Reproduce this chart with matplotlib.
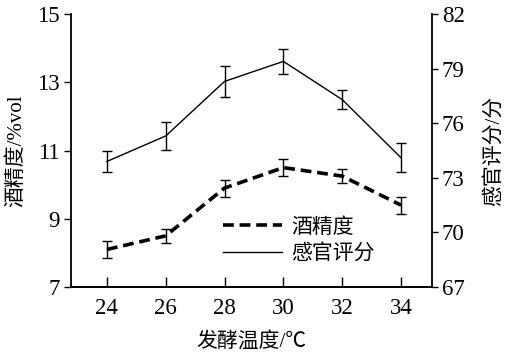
import matplotlib
matplotlib.use("Agg")
import matplotlib.pyplot as plt

plt.rcParams['font.family'] = ['Liberation Serif', 'Noto Sans CJK SC']

# data
temps = [24, 26, 28, 30, 32, 34]
alcohol = [8.1, 8.5, 9.9, 10.5, 10.25, 9.4]
alcohol_err = [0.25, 0.2, 0.25, 0.25, 0.2, 0.25]
sensory = [73.9, 75.3, 78.3, 79.4, 77.3, 74.1]
sensory_err = [0.6, 0.75, 0.85, 0.7, 0.5, 0.8]
left_ticks = [7, 9, 11, 13, 15]
right_ticks = [67, 70, 73, 76, 79, 82]

fig = plt.figure(figsize=(5.07, 3.61), dpi=100)
ax = fig.add_axes([0.140, 0.205, 0.712, 0.756])
ax2 = ax.twinx()

l1 = ax.errorbar(temps, alcohol, yerr=alcohol_err, color='black', lw=2.6,
                 linestyle=(0, (3, 1.6)), capsize=3.6, elinewidth=1, capthick=1,
                 label='酒精度')
l2 = ax2.errorbar(temps, sensory, yerr=sensory_err, color='black', lw=1,
                  capsize=3.6, elinewidth=1, capthick=1, label='感官评分')

ax.set_xlim(22.78, 35.05)
ax.set_ylim(7, 15)
ax2.set_ylim(67, 82)
ax.set_xticks(temps)
ax.set_yticks(left_ticks)
ax2.set_yticks(right_ticks)

for a in (ax, ax2):
    a.spines['top'].set_visible(False)
    for s in a.spines.values():
        s.set_linewidth(1.3)
ax.spines['right'].set_visible(False)
ax2.spines['left'].set_visible(False)

ax.tick_params(axis='x', direction='in', length=7, width=1, labelsize=16.5, pad=8)
ax.tick_params(axis='y', direction='out', length=5, width=1, labelsize=16.5, pad=3)
ax2.tick_params(axis='y', direction='out', length=4, width=1, labelsize=16.5, pad=3)

ax.set_xlabel('发酵温度/℃', fontsize=15, labelpad=9)
ax.set_ylabel('酒精度/%vol', fontsize=15, labelpad=8)
ax2.set_ylabel('感官评分/分', fontsize=15, labelpad=14)

handles = [l1.lines[0], l2.lines[0]]
ax.legend(handles, ['酒精度', '感官评分'], loc='lower left',
          bbox_to_anchor=(0.37, 0.015), frameon=False, fontsize=15,
          handlelength=2.8, handletextpad=0.45, labelspacing=0.32)

fig.savefig('out.png', dpi=100)
